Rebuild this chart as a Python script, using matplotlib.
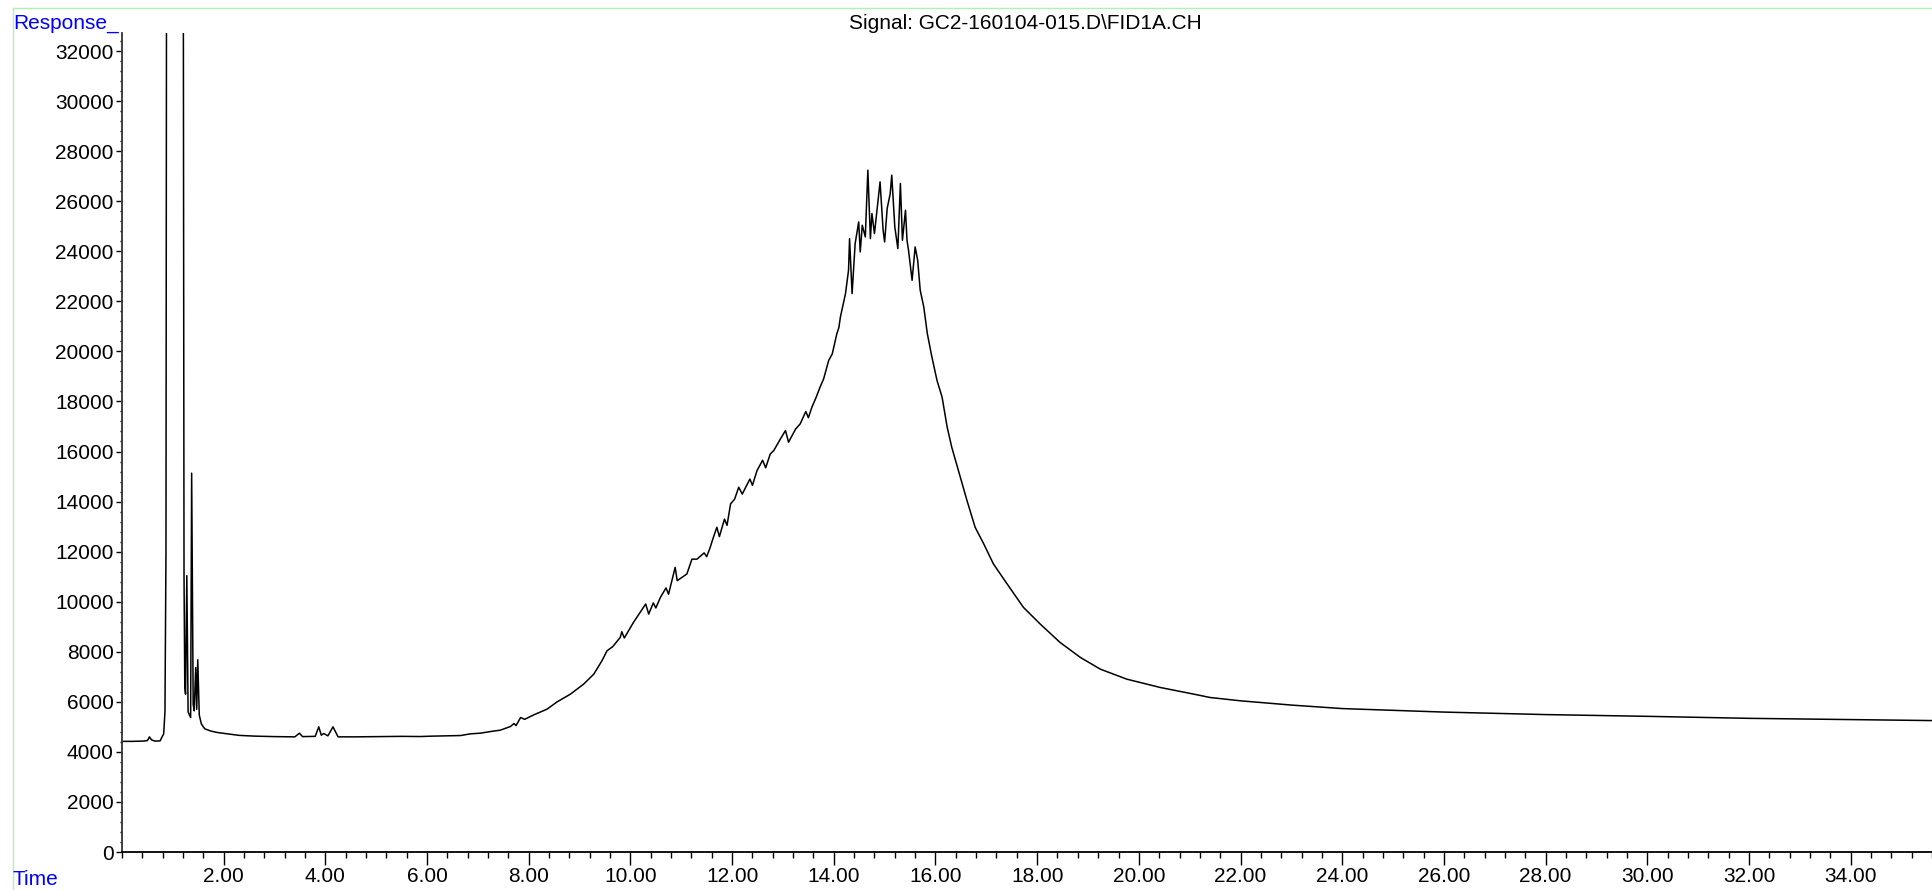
import numpy as np
import matplotlib
matplotlib.use("Agg")
import matplotlib.pyplot as plt
from matplotlib.ticker import MultipleLocator, FixedLocator
from matplotlib.lines import Line2D

# chromatogram (time in min, response counts)
time_min = [0.00, 0.20, 0.40, 0.50, 0.54, 0.58, 0.65, 0.75, 0.80, 0.82, 0.845, 0.865, 0.88,
            1.20, 1.22, 1.235, 1.25, 1.275, 1.30, 1.35, 1.37, 1.40, 1.42, 1.45, 1.47, 1.49,
            1.52, 1.56, 1.60, 1.63, 1.75, 1.88, 2.07, 2.30, 2.60, 3.00, 3.40, 3.49, 3.55,
            3.80, 3.87, 3.92, 3.97, 4.05, 4.15, 4.25, 4.60, 5.09, 5.50, 5.87, 6.07, 6.40,
            6.66, 6.85, 7.05, 7.25, 7.44, 7.64, 7.71, 7.75, 7.84, 7.92, 8.10, 8.36, 8.56,
            8.82, 9.08, 9.28, 9.44, 9.54, 9.65, 9.80, 9.83, 9.88, 10.06, 10.30, 10.36,
            10.45, 10.50, 10.59, 10.70, 10.75, 10.88, 10.92, 11.11, 11.21, 11.31, 11.45,
            11.50, 11.57, 11.62, 11.70, 11.75, 11.85, 11.90, 11.97, 12.05, 12.13, 12.20,
            12.35, 12.40, 12.49, 12.60, 12.66, 12.75, 12.82, 12.95, 13.05, 13.11, 13.25,
            13.34, 13.45, 13.50, 13.57, 13.65, 13.73, 13.80, 13.90, 13.97, 14.06, 14.10,
            14.13, 14.23, 14.29, 14.31, 14.36, 14.42, 14.49, 14.52, 14.56, 14.62, 14.67,
            14.72, 14.75, 14.80, 14.85, 14.91, 14.97, 15.00, 15.05, 15.11, 15.14, 15.20,
            15.26, 15.31, 15.35, 15.41, 15.44, 15.47, 15.54, 15.60, 15.65, 15.70, 15.77,
            15.84, 15.93, 16.03, 16.13, 16.23, 16.32, 16.49, 16.62, 16.78, 16.95, 17.14,
            17.41, 17.73, 18.06, 18.45, 18.85, 19.24, 19.76, 20.42, 21.08, 21.40, 22.00,
            23.00, 24.00, 26.00, 28.00, 30.00, 32.00, 34.00, 35.62]
response = [4420, 4420, 4430, 4450, 4600, 4480, 4430, 4440, 4650, 4720, 5600, 12000, 45000,
            45000, 11000, 6600, 6300, 11040, 5600, 5370, 15135, 5900, 5640, 7370, 5700, 7680,
            5470, 5120, 5000, 4920, 4830, 4773, 4720, 4660, 4630, 4610, 4600, 4747, 4610,
            4620, 5000, 4667, 4733, 4640, 5000, 4600, 4600, 4613, 4620, 4613, 4627, 4640,
            4653, 4720, 4747, 4813, 4867, 5013, 5133, 5050, 5373, 5300, 5480, 5707, 6000,
            6307, 6707, 7107, 7640, 8040, 8200, 8573, 8800, 8550, 9173, 9907, 9507,
            9950, 9750, 10173, 10550, 10300, 11373, 10840, 11107, 11700, 11700, 11950,
            11800, 12173, 12500, 12973, 12600, 13300, 13050, 13907, 14100, 14573, 14300,
            14900, 14650, 15240, 15650, 15350, 15900, 16040, 16500, 16840, 16373, 16900,
            17107, 17600, 17350, 17773, 18150, 18573, 18900, 19640, 19900, 20707, 20950,
            21373, 22307, 23240, 24507, 22307, 24307, 25173, 23973, 25040, 24573, 27240,
            24507, 25507, 24707, 25640, 26773, 24840, 24373, 25707, 26307, 27040, 24973,
            24107, 26707, 24440, 25640, 24440, 24040, 22840, 24173, 23640, 22440, 21773,
            20707, 19773, 18840, 18173, 16973, 16173, 14973, 14040, 12973, 12307, 11507,
            10707, 9773, 9107, 8373, 7773, 7307, 6907, 6573, 6307, 6173, 6040,
            5870, 5730, 5590, 5490, 5420, 5340, 5290, 5250]

x_major = np.arange(2, 36, 2)
y_major = np.arange(0, 34000, 2000)

plt.rcParams['font.family'] = ['Liberation Sans', 'DejaVu Sans']
plt.rcParams['font.size'] = 15

W, H = 1933, 890
fig = plt.figure(figsize=(W / 100, H / 100), dpi=100)
ax = fig.add_axes([122 / W, 1 - 852 / H, 1 - 122 / W, (852 - 33) / H])

ax.plot(time_min, response, color='black', lw=1.1)
ax.set_xlim(0, 35.62)
ax.set_ylim(0, 32720)

ax.spines['top'].set_visible(False)
ax.spines['right'].set_visible(False)
ax.spines['left'].set_linewidth(1.3)
ax.spines['left'].set_color('#333333')
ax.spines['bottom'].set_linewidth(1.3)

ax.xaxis.set_major_locator(FixedLocator(x_major))
ax.xaxis.set_minor_locator(MultipleLocator(0.4))
ax.set_xticklabels(['%.2f' % v for v in x_major])
ax.yaxis.set_major_locator(FixedLocator(y_major))
ax.yaxis.set_minor_locator(MultipleLocator(400))
ax.set_yticklabels([str(v) for v in y_major])

ax.tick_params(axis='x', which='major', direction='out', length=9, width=1, pad=2)
ax.tick_params(axis='x', which='minor', direction='out', length=4, width=1)
ax.tick_params(axis='y', which='major', direction='out', length=4, width=1, pad=2)
ax.tick_params(axis='y', which='minor', direction='out', length=1.5, width=1)

# light green frame
green = '#b0f0b0'
fig.add_artist(Line2D([13 / W, 1], [1 - 8 / H, 1 - 8 / H], color=green, lw=1, transform=fig.transFigure))
fig.add_artist(Line2D([13 / W, 13 / W], [0, 1 - 8 / H], color=green, lw=1, transform=fig.transFigure))

fig.text(13 / W, 1 - 29 / H, 'Response_', color='#0000ff', va='baseline', ha='left')
fig.text(13 / W, 1 - 885 / H, 'Time', color='#0000ff', va='baseline', ha='left')
fig.text(849 / W, 1 - 29 / H, 'Signal: GC2-160104-015.D\\FID1A.CH', color='black', va='baseline', ha='left')

plt.savefig('out.png', dpi=100)
